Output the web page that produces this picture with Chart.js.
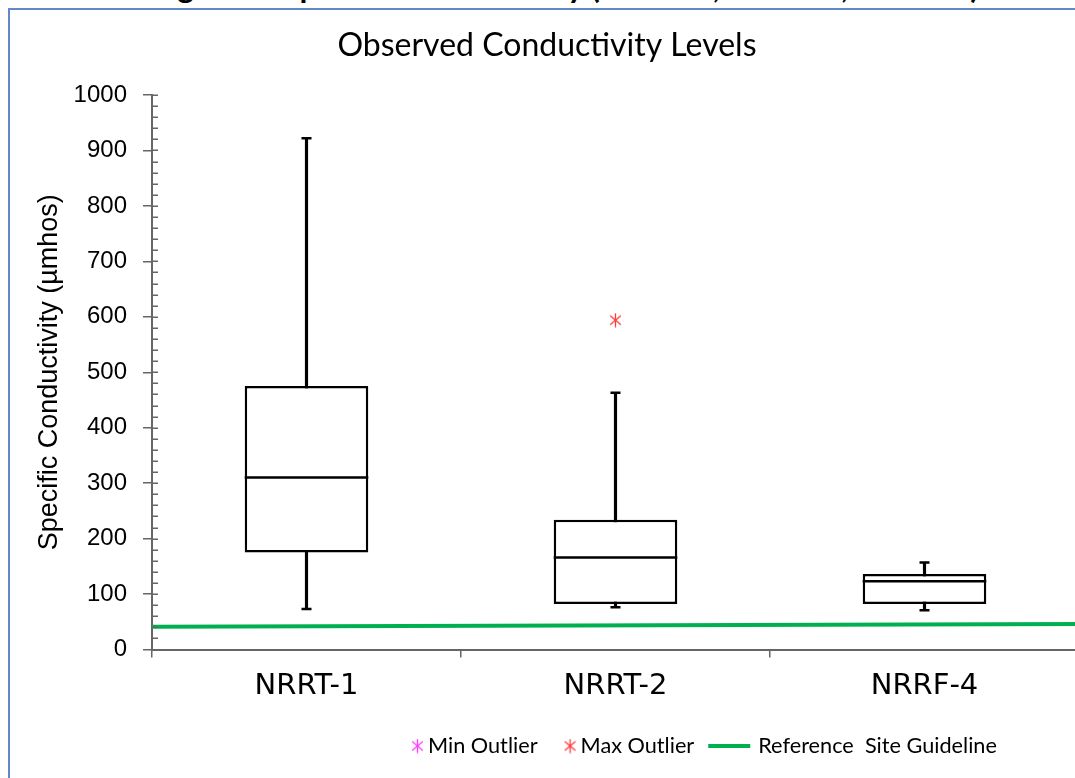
<!DOCTYPE html>
<html>
<head>
<meta charset="utf-8">
<script src="https://cdn.jsdelivr.net/npm/chart.js@4.4.1/dist/chart.umd.min.js"></script>
<style>
  html, body { margin: 0; padding: 0; background: #fff; overflow: hidden; width: 1075px; height: 778px; }
  #heading { position: absolute; left: 0; top: -29px; width: 1130px; text-align: center; font: bold 32px Lato, sans-serif; line-height: 30px; white-space: nowrap; color: #000; }
  #frame { position: absolute; left: 8px; top: 8px; width: 1200px; height: 900px; border-left: 2px solid #5f8ac7; border-top: 2px solid #5f8ac7; }
  #wrap { position: absolute; left: 0; top: 0; width: 1085px; height: 778px; }
</style>
</head>
<body>
<div id="heading">Figure 4. Specific Conductivity (NRRT-1, NRRT-2, NRRF-4)</div>
<div id="frame"></div>
<div id="wrap"><canvas id="c" width="1085" height="778"></canvas></div>
<script>
// Box-plot summary per monitoring site (specific conductivity, µmhos)
const sites = ['NRRT-1', 'NRRT-2', 'NRRF-4'];
const whiskerLow  = [73, 76, 71];
const quartile1   = [175, 82, 82];
const median      = [310, 166, 123];
const quartile3   = [475, 234, 136];
const whiskerHigh = [922, 463, 157];
const maxOutliers = [null, 594, null];
const minOutliers = [null, null, null];
// Reference site guideline at the left and right ends of the plot
const guidelineEnds = [41, 46];
const yRange = [0, 1000];
const yMajorStep = 100;
const yMinorStep = 20;

const boxShare = 0.4;

function makeAsterisk(color) {
  const c = document.createElement('canvas');
  c.width = 15; c.height = 15;
  const g = c.getContext('2d');
  g.strokeStyle = color;
  g.lineWidth = 1.3;
  g.beginPath();
  g.moveTo(7.5, 0.5); g.lineTo(7.5, 14.5);
  const r = 7, a = 40 * Math.PI / 180;
  g.moveTo(7.5 - r * Math.cos(a), 7.5 - r * Math.sin(a)); g.lineTo(7.5 + r * Math.cos(a), 7.5 + r * Math.sin(a));
  g.moveTo(7.5 - r * Math.cos(a), 7.5 + r * Math.sin(a)); g.lineTo(7.5 + r * Math.cos(a), 7.5 - r * Math.sin(a));
  g.stroke();
  return c;
}
const starMax = makeAsterisk('#ff3c3c');
const starMin = makeAsterisk('#ff3cff');

const halfBox = c => c.chart.chartArea ? c.chart.chartArea.width / sites.length * boxShare / 2 : 60;

const datasets = [
  { type: 'line', label: 'Max Outlier', data: maxOutliers, showLine: false,
    pointStyle: starMax, pointRadius: 7, order: 0, legendItem: 2, legendGap: 25 },
  { type: 'line', label: 'Min Outlier', data: minOutliers, showLine: false,
    pointStyle: starMin, pointRadius: 7, order: 0, legendItem: 1, legendGap: 0 },
  { type: 'line', label: 'Median', data: median, showLine: false,
    pointStyle: 'line', pointRadius: halfBox, borderColor: '#000', pointBorderWidth: 2.5, order: 1 },
  { type: 'line', label: 'Upper whisker', data: whiskerHigh, showLine: false,
    pointStyle: 'line', pointRadius: 5, borderColor: '#000', pointBorderWidth: 2.5, order: 2 },
  { type: 'line', label: 'Lower whisker', data: whiskerLow, showLine: false,
    pointStyle: 'line', pointRadius: 5, borderColor: '#000', pointBorderWidth: 2.5, order: 2 },
  { type: 'bar', label: 'Interquartile range', data: sites.map((_, i) => [quartile1[i], quartile3[i]]),
    backgroundColor: '#fff', borderColor: '#000', borderWidth: 2.5, borderSkipped: false,
    barPercentage: boxShare, categoryPercentage: 1, grouped: false, order: 3 },
  { type: 'bar', label: 'Whisker', data: sites.map((_, i) => [whiskerLow[i], whiskerHigh[i]]),
    backgroundColor: '#000', barThickness: 2.5, grouped: false, order: 4 },
  { type: 'line', label: 'Reference  Site Guideline', xAxisID: 'xg',
    data: [{ x: 0, y: guidelineEnds[0] }, { x: 1, y: guidelineEnds[1] }],
    borderColor: '#00b050', borderWidth: 4, pointRadius: 0, order: 5, legendItem: 3, legendGap: 14 }
];

// short inward ticks every minor step along the value axis
const innerTicks = {
  id: 'innerTicks',
  afterDraw(chart) {
    const y = chart.scales.y, ctx = chart.ctx, x0 = chart.chartArea.left;
    ctx.save();
    ctx.strokeStyle = '#666';
    ctx.lineWidth = 1.5;
    ctx.beginPath();
    for (let v = yRange[0]; v <= yRange[1]; v += yMinorStep) {
      const py = Math.round(y.getPixelForValue(v)) + 0.25;
      ctx.moveTo(x0, py);
      ctx.lineTo(x0 + 6, py);
    }
    ctx.stroke();
    ctx.restore();
  }
};

// single-row legend under the category labels
const legendRow = {
  id: 'legendRow',
  afterDraw(chart) {
    const ctx = chart.ctx;
    const items = chart.data.datasets.filter(d => d.legendItem).sort((a, b) => a.legendItem - b.legendItem);
    ctx.save();
    ctx.font = '21.7px Lato';
    ctx.textBaseline = 'middle';
    ctx.fillStyle = '#000';
    let x = 410;
    const y = 746;
    items.forEach(d => {
      x += d.legendGap;
      if (d.pointStyle instanceof HTMLCanvasElement) {
        ctx.drawImage(d.pointStyle, x, y - d.pointStyle.height / 2);
        x += d.pointStyle.width + 3;
      } else {
        ctx.strokeStyle = d.borderColor;
        ctx.lineWidth = d.borderWidth;
        ctx.beginPath();
        ctx.moveTo(x, y); ctx.lineTo(x + 42, y);
        ctx.stroke();
        x += 42 + 8;
      }
      ctx.fillText(d.label, x, y);
      x += ctx.measureText(d.label).width;
    });
    ctx.restore();
  }
};

new Chart(document.getElementById('c'), {
  data: { labels: sites, datasets },
  plugins: [innerTicks, legendRow],
  options: {
    responsive: false,
    animation: false,
    events: [],
    layout: { autoPadding: false, padding: { left: 15, right: 6, top: 2, bottom: 68.5 } },
    plugins: {
      legend: { display: false },
      tooltip: { enabled: false },
      title: {
        display: true,
        text: 'Observed Conductivity Levels',
        color: '#000',
        font: { family: 'Lato', size: 32, weight: 'normal' },
        padding: { top: 24, bottom: 30.6 }
      }
    },
    scales: {
      x: {
        type: 'category',
        offset: true,
        grid: { offset: true, drawOnChartArea: false, drawTicks: true, tickLength: 8, color: '#666', lineWidth: 1.5 },
        border: { display: true, color: '#666', width: 2 },
        ticks: { color: '#000', font: { family: 'DejaVu Sans', size: 29 }, padding: 12 },
        afterFit: s => { s.height = 60; s.paddingLeft = 0; s.paddingRight = 0; }
      },
      xg: { type: 'linear', min: 0, max: 1, display: false, offset: false },
      y: {
        min: yRange[0], max: yRange[1],
        ticks: { stepSize: yMajorStep, color: '#000', font: { family: 'Liberation Sans', size: 24 }, padding: 16,
                 callback: v => String(v) },
        grid: { drawOnChartArea: false, drawTicks: true, tickLength: 9, color: '#666', lineWidth: 1.5 },
        border: { display: true, color: '#666', width: 2 },
        title: {
          display: true,
          text: 'Specific Conductivity (µmhos)',
          color: '#000',
          font: { family: 'Liberation Sans', size: 27 },
          padding: { top: 18, bottom: 0 }
        },
        afterFit: s => { s.width = 137; }
      }
    }
  }
});
</script>
</body>
</html>
